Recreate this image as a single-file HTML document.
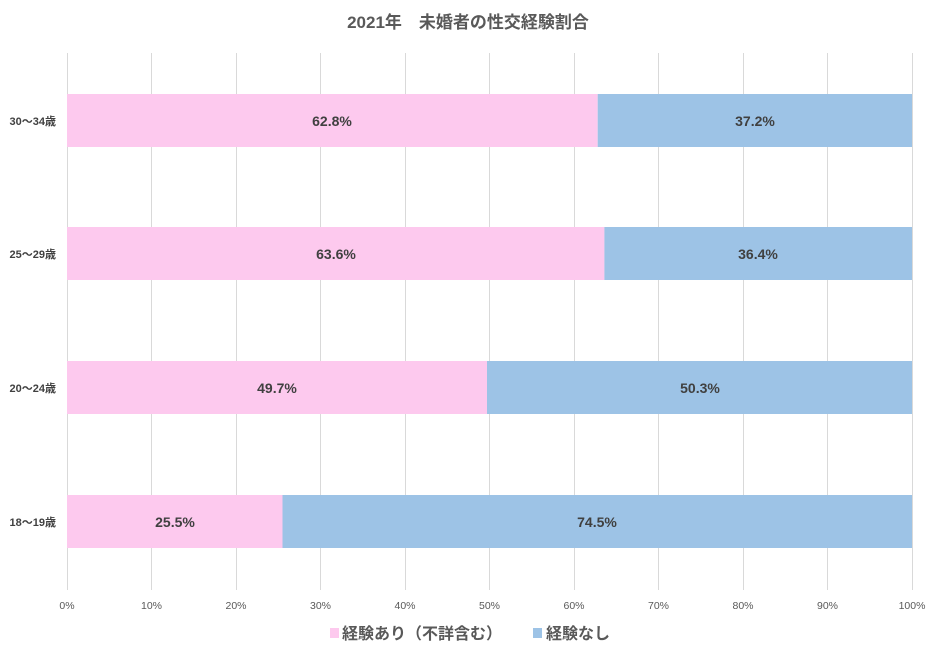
<!DOCTYPE html>
<html><head><meta charset="utf-8"><style>
body{margin:0;background:#fff;}
svg{display:block;font-family:"Liberation Sans","Noto Sans CJK JP",sans-serif;}
</style></head><body>
<svg width="937" height="652" viewBox="0 0 937 652">
<rect width="937" height="652" fill="#fff"/>
<text x="468" y="28" text-anchor="middle" font-size="17" font-weight="bold" fill="#595959">2021年　未婚者の性交経験割合</text>
<g stroke="#d9d9d9" stroke-width="1">
<line x1="67.5" y1="53" x2="67.5" y2="590"/>
<line x1="151.5" y1="53" x2="151.5" y2="590"/>
<line x1="236.5" y1="53" x2="236.5" y2="590"/>
<line x1="320.5" y1="53" x2="320.5" y2="590"/>
<line x1="405.5" y1="53" x2="405.5" y2="590"/>
<line x1="489.5" y1="53" x2="489.5" y2="590"/>
<line x1="574.5" y1="53" x2="574.5" y2="590"/>
<line x1="658.5" y1="53" x2="658.5" y2="590"/>
<line x1="743.5" y1="53" x2="743.5" y2="590"/>
<line x1="827.5" y1="53" x2="827.5" y2="590"/>
<line x1="912.5" y1="53" x2="912.5" y2="590"/>
</g>
<g>
<rect x="67" y="94" width="530.7" height="53" fill="#fdc9ee"/><rect x="597.7" y="94" width="314.3" height="53" fill="#9dc3e6"/>
<rect x="67" y="227" width="537.4" height="53" fill="#fdc9ee"/><rect x="604.4" y="227" width="307.6" height="53" fill="#9dc3e6"/>
<rect x="67" y="361" width="420" height="53" fill="#fdc9ee"/><rect x="487" y="361" width="425" height="53" fill="#9dc3e6"/>
<rect x="67" y="495" width="215.5" height="53" fill="#fdc9ee"/><rect x="282.5" y="495" width="629.5" height="53" fill="#9dc3e6"/>
</g>
<g font-size="14" font-weight="bold" fill="#404040" text-anchor="middle">
<text x="332" y="126">62.8%</text><text x="755" y="126">37.2%</text>
<text x="336" y="259">63.6%</text><text x="758" y="259">36.4%</text>
<text x="277" y="393">49.7%</text><text x="700" y="393">50.3%</text>
<text x="175" y="527">25.5%</text><text x="597" y="527">74.5%</text>
</g>
<g font-size="11" font-weight="bold" fill="#404040" text-anchor="end">
<text x="56" y="125">30〜34歳</text>
<text x="56" y="258">25〜29歳</text>
<text x="56" y="392">20〜24歳</text>
<text x="56" y="526">18〜19歳</text>
</g>
<g font-size="10.5" fill="#595959" text-anchor="middle">
<text x="67" y="609">0%</text><text x="151.5" y="609">10%</text><text x="236" y="609">20%</text><text x="320.5" y="609">30%</text><text x="405" y="609">40%</text><text x="489.5" y="609">50%</text><text x="574" y="609">60%</text><text x="658.5" y="609">70%</text><text x="743" y="609">80%</text><text x="827.5" y="609">90%</text><text x="912" y="609">100%</text>
</g>
<rect x="330" y="628" width="9" height="10" fill="#fdc9ee"/>
<text x="342" y="639" font-size="16" font-weight="bold" fill="#595959">経験あり（不詳含む）</text>
<rect x="533" y="628" width="9" height="10" fill="#9dc3e6"/>
<text x="546" y="639" font-size="16" font-weight="bold" fill="#595959">経験なし</text>
</svg>
</body></html>
